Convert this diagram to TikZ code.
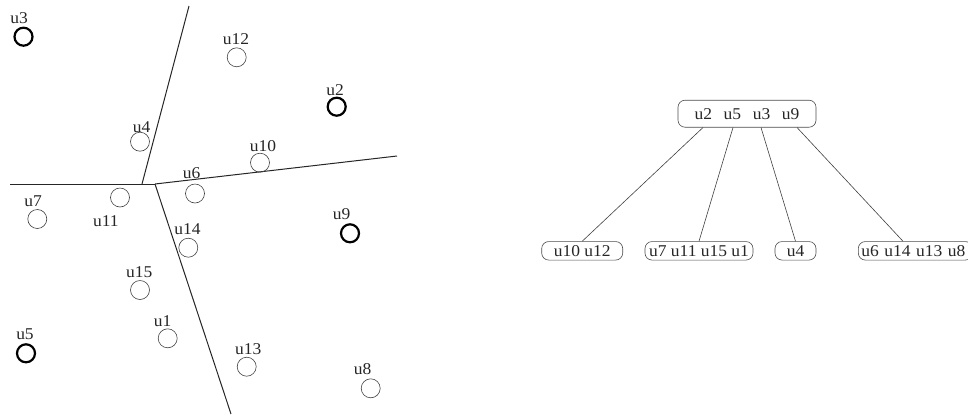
\documentclass[tikz,border=0pt]{standalone}
\usepackage{fontspec}
\setmainfont[FakeStretch=1.06]{Liberation Serif}
\usetikzlibrary{calc}
\begin{document}
\begin{tikzpicture}[x=1pt,y=-1pt,
  pt/.style={circle,draw=black!75,line width=0.6pt,minimum size=19pt,inner sep=0pt},
  hub/.style={circle,draw=black,line width=2.2pt,minimum size=18pt,inner sep=0pt},
  lab/.style={inner sep=0pt,text=black!85,font=\fontsize{16.5}{16.5}\selectfont},
  cut/.style={draw=black!85,line width=1pt},
  grp/.style={draw=black!70,line width=0.6pt,rounded corners=7pt,inner sep=0pt,
    minimum height=18.5pt,text=black!85,font=\fontsize{16.5}{16.5}\selectfont},
  link/.style={draw=black!75,line width=0.6pt}]
\useasboundingbox (0,0) rectangle (968,416);

% partition lines
\coordinate (j1) at (142,184);
\coordinate (j2) at (155,184);
\coordinate (w) at (10,184);
\coordinate (n) at (189,6);
\coordinate (e) at (397,156);
\coordinate (s) at (231,414);
\draw[cut] (w) -- (j2);
\draw[cut] (j1) -- (n);
\draw[cut] (j2) -- (e);
\draw[cut] (j2) -- (s);

% points
\node[hub] (u3) at (23.5,36.7) {};
\node[hub] (u2) at (336.7,106.7) {};
\node[hub] (u9) at (350,233.3) {};
\node[hub] (u5) at (26,353.3) {};
\node[pt] (u12) at (236.7,57.3) {};
\node[pt] (u4) at (140,141.7) {};
\node[pt] (u10) at (260,162.7) {};
\node[pt] (u6) at (195,193.5) {};
\node[pt] (u11) at (120,197.5) {};
\node[pt] (u7) at (37.3,219) {};
\node[pt] (u14) at (188.3,247.7) {};
\node[pt] (u15) at (140,290) {};
\node[pt] (u1) at (167.7,338.3) {};
\node[pt] (u13) at (246.7,366.7) {};
\node[pt] (u8) at (370.7,388.3) {};

% point labels
\node[lab] (l3) at (19,18) {u3};
\node[lab] (l2) at (335,90) {u2};
\node[lab] (l9) at (341.7,214) {u9};
\node[lab] (l5) at (25,334) {u5};
\node[lab] (l12) at (236,39) {u12};
\node[lab] (l4) at (141.7,126.7) {u4};
\node[lab] (l10) at (263,146) {u10};
\node[lab] (l6) at (191.7,173.3) {u6};
\node[lab] (l11) at (105.8,220.8) {u11};
\node[lab] (l7) at (33,201) {u7};
\node[lab] (l14) at (187.5,229) {u14};
\node[lab] (l15) at (139.2,272.5) {u15};
\node[lab] (l1) at (162.5,321) {u1};
\node[lab] (l13) at (248.3,349) {u13};
\node[lab] (l8) at (362.5,369) {u8};

% tree
\node[grp,minimum width=138pt,minimum height=27pt] (root) at (747,113.7)
  {u2\hspace{0.7em}u5\hspace{0.7em}u3\hspace{0.7em}u9\hspace{0.5em}};
\node[grp,minimum width=81pt] (b1) at (582.2,250.8) {u10 u12};
\node[grp,minimum width=108pt] (b2) at (699,250.8) {u7 u11 u15 u1};
\node[grp,minimum width=41pt] (b3) at (795.5,250.8) {u4};
\node[grp,minimum width=114pt,text width=114pt,align=right] (b4) at (915.3,250.8)
  {u6 u14 u13 u8\hspace*{7pt}};

\coordinate (r1) at ($(root.south)+(-44,0)$);
\coordinate (r2) at ($(root.south)+(-14,0)$);
\coordinate (r3) at ($(root.south)+(14,0)$);
\coordinate (r4) at ($(root.south)+(50,0)$);
\coordinate (c4) at ($(b4.north west)+(45,0)$);
\draw[link] (r1) -- (b1.north);
\draw[link] (r2) -- (b2.north);
\draw[link] (r3) -- (b3.north);
\draw[link] (r4) -- (c4);
\end{tikzpicture}
\end{document}
